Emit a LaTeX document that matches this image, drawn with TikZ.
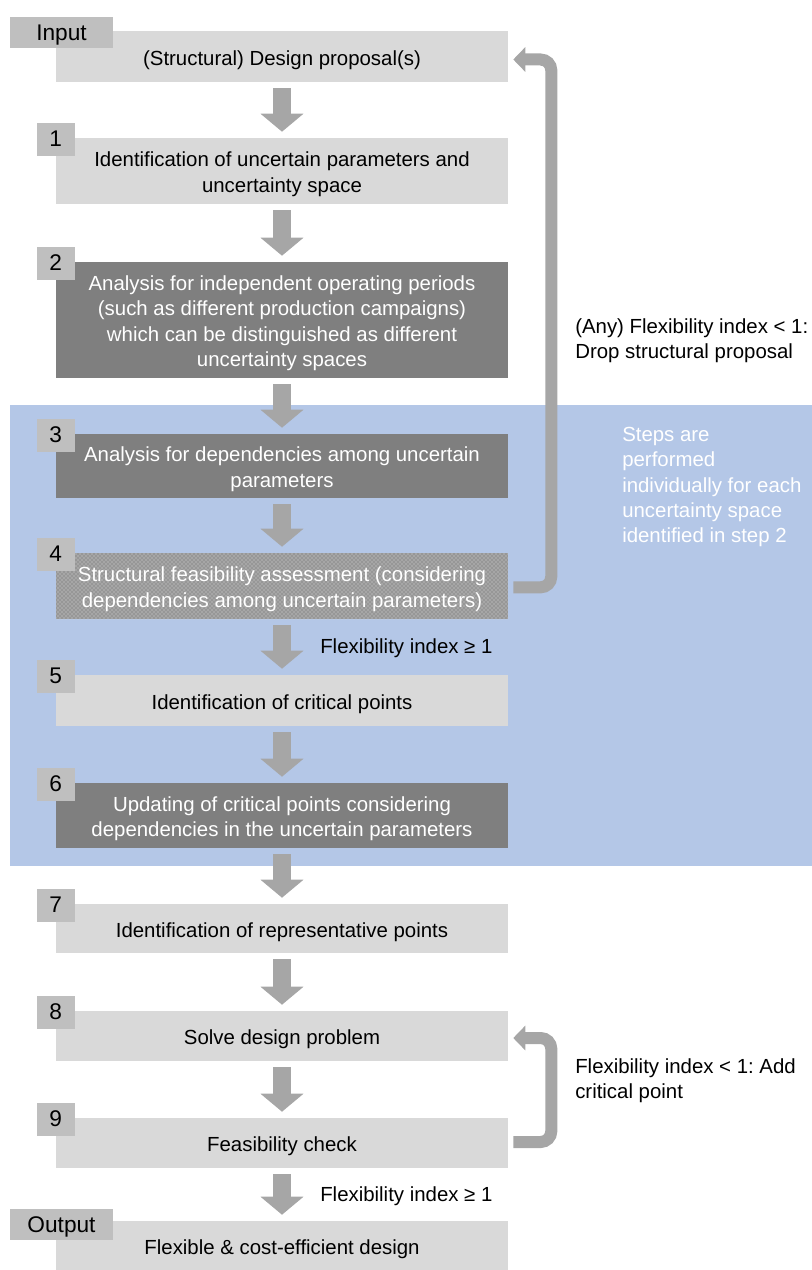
\documentclass[tikz,border=0pt]{standalone}
\usepackage{fontspec}
\setmainfont{Liberation Sans}
\usetikzlibrary{arrows.meta,patterns,positioning}
\definecolor{boxlight}{HTML}{D9D9D9}
\definecolor{boxdark}{HTML}{7F7F7F}
\definecolor{boxnum}{HTML}{BFBFBF}
\definecolor{arrowgray}{HTML}{A6A6A6}
\definecolor{regionblue}{HTML}{B4C7E7}
\definecolor{hatchgray}{HTML}{979797}
\frenchspacing
\tikzset{
  stepbox/.style={minimum width=339pt, inner sep=0pt, align=center, font=\fontsize{15.3pt}{19pt}\selectfont,
    execute at begin node={\rule{0pt}{\dimexpr 19pt*#1-3pt\relax}}},
  stepbox/.default=1,
  lightbox/.style={stepbox=#1, fill=boxlight},
  lightbox/.default=1,
  darkbox/.style={stepbox=#1, fill=boxdark, text=white},
  darkbox/.default=1,
  hatchbox/.style={stepbox=#1, fill=hatchgray, text=white, postaction={pattern=crosshatch dots, pattern color=boxlight}},
  hatchbox/.default=1,
  numbox/.style={fill=boxnum, minimum width=28.5pt, minimum height=24.75pt, inner sep=0pt, font=\fontsize{17pt}{20pt}\selectfont},
  tagbox/.style={fill=boxnum, minimum width=77.25pt, minimum height=23.25pt, inner sep=0pt, text height=16pt, font=\fontsize{17pt}{20pt}\selectfont},
  flowarrow/.style={draw=arrowgray, line width=13pt, -{Triangle[width=31.5pt,length=13.5pt]}, shorten <=4.5pt, shorten >=4.5pt},
  loopline/.style={draw=arrowgray, line width=9pt, rounded corners=8pt, -{Triangle[width=18pt,length=9pt]}},
  note/.style={anchor=west, align=left, inner sep=0pt, font=\fontsize{15.3pt}{19pt}\selectfont}
}
\begin{document}
\begin{tikzpicture}[x=0.75pt, y=-0.75pt]
  \useasboundingbox (0,0) rectangle (812,1270);
  % region of steps 3 to 6
  \fill[regionblue] (10,405) rectangle (812,866);

  \node[lightbox, minimum height=38.25pt] (s0) at (282,56.5) {(Structural) Design proposal(s)};
  \node[lightbox=2, minimum height=49.5pt] (s1) at (282,171) {Identification of uncertain parameters and\\uncertainty space};
  \node[darkbox=4, minimum height=87pt] (s2) at (282,320) {Analysis for independent operating periods\\(such as different production campaigns)\\which can be distinguished as different\\uncertainty spaces};
  \node[darkbox=2, minimum height=48pt] (s3) at (282,466) {Analysis for dependencies among uncertain\\parameters};
  \node[hatchbox=2, minimum height=49.5pt] (s4) at (282,586) {Structural feasibility assessment (considering\\dependencies among uncertain parameters)};
  \node[lightbox, minimum height=38.25pt] (s5) at (282,700.5) {Identification of critical points};
  \node[darkbox=2, minimum height=48.75pt] (s6) at (282,815.5) {Updating of critical points considering\\dependencies in the uncertain parameters};
  \node[lightbox, minimum height=36.75pt] (s7) at (282,928.5) {Identification of representative points};
  \node[lightbox, minimum height=37.5pt] (s8) at (282,1036) {Solve design problem};
  \node[lightbox, minimum height=37.5pt] (s9) at (282,1143) {Feasibility check};
  \node[lightbox, minimum height=36.75pt] (sout) at (282,1245.5) {Flexible \& cost-efficient design};

  \node[tagbox] (in) at (61.5,32.5) {Input};
  \node[tagbox] (outtag) at (61.5,1224) {Output};
  \foreach \i in {1,...,9}
    \node[numbox] (n\i) at ([yshift=-1pt]s\i.north west) {\i};

  \foreach \a/\b in {s0/s1, s1/s2, s2/s3, s3/s4, s4/s5, s5/s6, s6/s7, s7/s8, s8/s9, s9/sout}
    \draw[flowarrow] (\a) -- (\b);

  % feedback loops
  \draw[loopline] ([xshift=3.75pt,yshift=-1pt]s4.east) -- ++(38,0) |- ([xshift=3.75pt,yshift=-2.25pt]s0.east);
  \draw[loopline] ([xshift=3.75pt,yshift=0.75pt]s9.east) -- ++(38,0) |- ([xshift=3.75pt,yshift=-1.5pt]s8.east);

  \node[note] (drop) at (575,341) {(Any) Flexibility index < 1:\\Drop structural proposal};
  \node[note, text=white] (each) at (622,487) {Steps are\\performed\\individually for each\\uncertainty space\\identified in step 2};
  \node[note] (feas1) at (320,648) {Flexibility index ≥ 1};
  \node[note] (addcp) at (575,1080.5) {Flexibility index < 1: Add\\critical point};
  \node[note] (feas2) at (320,1196) {Flexibility index ≥ 1};
\end{tikzpicture}
\end{document}
